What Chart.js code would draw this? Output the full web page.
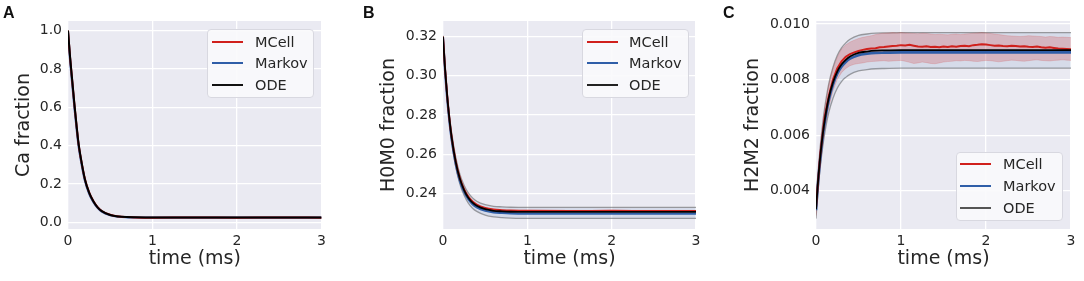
<!DOCTYPE html>
<html>
<head>
<meta charset="utf-8">
<script src="https://cdn.jsdelivr.net/npm/chart.js@4.4.0/dist/chart.umd.min.js"></script>
<style>
  body { margin: 0; width: 1084px; height: 281px; background: #fff; position: relative; overflow: hidden; font-family: "DejaVu Sans", sans-serif; }
  canvas { position: absolute; top: 0; }
  .tag { position: absolute; top: 5px; font: bold 16px "Liberation Sans", Arial, sans-serif; line-height: 1; color: #111; }
  .legend { position: absolute; width: 107px; height: 69px; background: rgba(250,250,252,0.9); border: 1px solid #d8d8e0; border-radius: 4px; box-sizing: border-box; color: #262626; font-size: 14.5px; }
  .row { position: absolute; left: 0; height: 20px; line-height: 20px; white-space: nowrap; }
  .sw { position: absolute; top: 9px; width: 31px; height: 2px; }
  .lbl { position: absolute; }
</style>
</head>
<body>
<canvas id="chartA" width="330" height="281" style="left:0px"></canvas>
<canvas id="chartB" width="345" height="281" style="left:360px"></canvas>
<canvas id="chartC" width="360" height="281" style="left:720px"></canvas>
<div class="tag" style="left:3px">A</div>
<div class="tag" style="left:363px">B</div>
<div class="tag" style="left:723px">C</div>
<div id="legA" class="legend" style="left:207px;top:29px"></div>
<div id="legB" class="legend" style="left:582px;top:29px"></div>
<div id="legC" class="legend" style="left:956px;top:152px"></div>
<script>
// time axis (ms)
const timeA = [0, 0.025, 0.05, 0.075, 0.1, 0.125, 0.15, 0.2, 0.25, 0.3, 0.35, 0.4, 0.5, 0.6, 0.7, 0.8, 1.0, 1.5, 2.0, 2.5, 3.0];
const timeBC = [0, 0.025, 0.05, 0.075, 0.1, 0.15, 0.2, 0.25, 0.3, 0.35, 0.4, 0.5, 0.6, 0.7, 0.8, 1.0, 1.5, 2.0, 2.5, 3.0];
const timeFine = [0, 0.05, 0.1, 0.15, 0.2, 0.25, 0.3, 0.35, 0.4, 0.45, 0.5, 0.55, 0.6, 0.65, 0.7, 0.75, 0.8, 0.85, 0.9, 0.95,
  1.0, 1.05, 1.1, 1.15, 1.2, 1.25, 1.3, 1.35, 1.4, 1.45, 1.5, 1.55, 1.6, 1.65, 1.7, 1.75, 1.8, 1.85, 1.9, 1.95,
  2.0, 2.05, 2.1, 2.15, 2.2, 2.25, 2.3, 2.35, 2.4, 2.45, 2.5, 2.55, 2.6, 2.65, 2.7, 2.75, 2.8, 2.85, 2.9, 2.95, 3.0];

// panel A: Ca fraction
const caODE    = [1.0, 0.86, 0.74, 0.62, 0.51, 0.41, 0.34, 0.225, 0.155, 0.11, 0.078, 0.058, 0.038, 0.030, 0.027, 0.026, 0.025, 0.025, 0.025, 0.025, 0.025];
const caMarkov = [0.99, 0.845, 0.725, 0.605, 0.497, 0.40, 0.33, 0.218, 0.15, 0.106, 0.076, 0.056, 0.037, 0.029, 0.026, 0.025, 0.024, 0.024, 0.024, 0.024, 0.024];
const caMCell  = [1.0, 0.858, 0.738, 0.618, 0.509, 0.409, 0.339, 0.226, 0.156, 0.111, 0.079, 0.059, 0.039, 0.030, 0.027, 0.025, 0.024, 0.025, 0.024, 0.025, 0.024];

// panel B: H0M0 fraction
const h0m0ODE    = [0.3200, 0.3032, 0.2895, 0.2784, 0.2694, 0.2562, 0.2474, 0.2417, 0.2378, 0.2353, 0.2337, 0.2319, 0.2311, 0.2308, 0.2306, 0.2305, 0.2305, 0.2305, 0.2305, 0.2305];
const h0m0Markov = [0.3195, 0.3020, 0.2882, 0.2771, 0.2681, 0.2551, 0.2464, 0.2408, 0.2370, 0.2345, 0.2329, 0.2311, 0.2303, 0.2300, 0.2298, 0.2297, 0.2297, 0.2297, 0.2297, 0.2297];
const h0m0MCell  = [0.3200, 0.3033, 0.2897, 0.2786, 0.2696, 0.2565, 0.2478, 0.2421, 0.2383, 0.2358, 0.2342, 0.2325, 0.2317, 0.2314, 0.2312, 0.2311, 0.2310, 0.2311, 0.2310, 0.2310];
const h0m0Hi     = [0.3205, 0.3045, 0.2912, 0.2803, 0.2716, 0.2586, 0.2498, 0.2441, 0.2402, 0.2377, 0.2360, 0.2342, 0.2334, 0.2331, 0.2329, 0.2328, 0.2328, 0.2328, 0.2328, 0.2328];
const h0m0Lo     = [0.3190, 0.3018, 0.2878, 0.2765, 0.2673, 0.2538, 0.2448, 0.2390, 0.2350, 0.2324, 0.2308, 0.2289, 0.2280, 0.2276, 0.2274, 0.2272, 0.2272, 0.2272, 0.2272, 0.2272];

// panel C: H2M2 fraction
const h2m2ODE    = [0.00334, 0.00438, 0.00523, 0.00592, 0.00649, 0.00734, 0.00790, 0.00829, 0.00854, 0.00871, 0.00883, 0.00896, 0.00901, 0.00904, 0.00905, 0.00906, 0.00906, 0.00906, 0.00906, 0.00906];
const h2m2Markov = [0.00330, 0.00432, 0.00516, 0.00585, 0.00641, 0.00726, 0.00782, 0.00821, 0.00846, 0.00863, 0.00875, 0.00888, 0.00893, 0.00896, 0.00897, 0.00898, 0.00898, 0.00898, 0.00898, 0.00898];
const h2m2Hi     = [0.00370, 0.00469, 0.00560, 0.00633, 0.00694, 0.00785, 0.00845, 0.00887, 0.00914, 0.00932, 0.00945, 0.00959, 0.00964, 0.00967, 0.00968, 0.00969, 0.00969, 0.00969, 0.00969, 0.00969];
const h2m2Lo     = [0.00300, 0.00406, 0.00485, 0.00549, 0.00602, 0.00681, 0.00733, 0.00769, 0.00793, 0.00808, 0.00819, 0.00831, 0.00836, 0.00839, 0.00840, 0.00841, 0.00841, 0.00841, 0.00841, 0.00841];
const h2m2MCell  = [0.0034, 0.0053, 0.0066, 0.0074, 0.0080, 0.0084, 0.00866, 0.00882, 0.00892, 0.00898, 0.00903, 0.00907, 0.0091, 0.00912, 0.00913, 0.00916, 0.00917, 0.00919, 0.00921, 0.00922,
  0.00924, 0.00923, 0.00925, 0.00922, 0.00919, 0.00918, 0.0092, 0.00917, 0.00918, 0.00916, 0.00919, 0.00917, 0.0092, 0.00918, 0.00921, 0.00922, 0.0092, 0.00924, 0.00925, 0.00927,
  0.00926, 0.00924, 0.00922, 0.00923, 0.00921, 0.0092, 0.00922, 0.00921, 0.00919, 0.0092, 0.00918, 0.00917, 0.00919, 0.00916, 0.00915, 0.00916, 0.00914, 0.00912, 0.00911, 0.0091, 0.00909];
const h2m2MCellHi = [0.0036, 0.0056, 0.0069, 0.0078, 0.0084, 0.0088, 0.0091, 0.00925, 0.00935, 0.00942, 0.00948, 0.00952, 0.00955, 0.00958, 0.00962, 0.00965, 0.00967, 0.00968, 0.00969, 0.00968,
  0.00969, 0.00968, 0.00967, 0.00966, 0.00965, 0.00967, 0.00966, 0.00964, 0.00962, 0.00963, 0.00962, 0.00961, 0.00963, 0.00964, 0.00962, 0.00964, 0.00965, 0.00967, 0.00968, 0.00969,
  0.00968, 0.00966, 0.00964, 0.00962, 0.0096, 0.00958, 0.00957, 0.00956, 0.00955, 0.00956, 0.00958, 0.00957, 0.00956, 0.00955, 0.00953, 0.00955, 0.00954, 0.00952, 0.00953, 0.00952, 0.00951];
const h2m2MCellLo = [0.0031, 0.0049, 0.0062, 0.0070, 0.0076, 0.0080, 0.00825, 0.0084, 0.0085, 0.00855, 0.00858, 0.0086, 0.00863, 0.00865, 0.00866, 0.00867, 0.00868, 0.00866, 0.00867, 0.00868,
  0.00869, 0.00866, 0.00862, 0.00858, 0.0086, 0.00863, 0.00861, 0.00858, 0.00857, 0.0086, 0.00863, 0.00865, 0.00866, 0.00868, 0.00867, 0.00869, 0.00868, 0.00866, 0.00865, 0.00867,
  0.00869, 0.00868, 0.00866, 0.00864, 0.00866, 0.00868, 0.0087, 0.00869, 0.00867, 0.00866, 0.00868, 0.0087, 0.00871, 0.00869, 0.00868, 0.00867, 0.00869, 0.0087, 0.00871, 0.0087, 0.00869];

// tick labels
const xTicks = [0, 1, 2, 3];
const yTicksA = [0.0, 0.2, 0.4, 0.6, 0.8, 1.0];
const yTicksB = [0.24, 0.26, 0.28, 0.30, 0.32];
const yTicksC = [0.004, 0.006, 0.008, 0.010];

const RED = "#d0201c";
const BLUE = "#2f5ea8";
const INK = "#262626";
const BANDLINE = "rgba(90,90,90,0.55)";

function pts(xs, ys) {
  return ys.map((y, i) => ({ x: xs[i], y: y }));
}

function line(data, color, width, order, extra) {
  return Object.assign({
    data: data, borderColor: color, borderWidth: width, pointRadius: 0,
    cubicInterpolationMode: "monotone", fill: false, order: order
  }, extra || {});
}

// fills the plot area with the seaborn grey
const plotBg = {
  id: "plotBg",
  beforeDraw(chart) {
    const a = chart.chartArea;
    const ctx = chart.ctx;
    ctx.save();
    ctx.fillStyle = "#eaeaf2";
    ctx.fillRect(a.left, a.top, a.right - a.left, a.bottom - a.top);
    ctx.restore();
  }
};

function makeChart(id, o) {
  return new Chart(document.getElementById(id), {
    type: "line",
    data: { datasets: o.datasets },
    plugins: [plotBg],
    options: {
      responsive: false,
      animation: false,
      layout: { padding: { top: 21, right: o.pr, left: 0, bottom: 0 } },
      plugins: { legend: { display: false }, tooltip: { enabled: false } },
      scales: {
        x: {
          type: "linear", min: 0, max: 3,
          afterBuildTicks: (ax) => { ax.ticks = xTicks.map((v) => ({ value: v })); },
          afterFit: (ax) => { ax.height = 52; },
          grid: { color: "#ffffff", lineWidth: 1.3, drawTicks: false },
          border: { display: false },
          ticks: { padding: 4, color: INK, font: { family: "DejaVu Sans", size: 14 }, callback: (v) => String(v) },
          title: { display: true, text: "time (ms)", color: INK, font: { family: "DejaVu Sans", size: 19 }, padding: { top: 0, bottom: 11 } }
        },
        y: {
          type: "linear", min: o.ymin, max: o.ymax,
          afterBuildTicks: (ax) => { ax.ticks = o.yTicks.map((v) => ({ value: v })); },
          afterFit: (ax) => { ax.width = o.yw; },
          grid: { color: "#ffffff", lineWidth: 1.3, drawTicks: false },
          border: { display: false },
          ticks: { padding: 6, color: INK, font: { family: "DejaVu Sans", size: 14 }, callback: (v) => Number(v).toFixed(o.dec) },
          title: { display: true, text: o.ytitle, color: INK, font: { family: "DejaVu Sans", size: 19 }, padding: { top: o.tpad, bottom: 0 } }
        }
      }
    }
  });
}

makeChart("chartA", {
  yw: 68, pr: 8, ymin: -0.035, ymax: 1.05, yTicks: yTicksA, dec: 1, ytitle: "Ca fraction", tpad: 13,
  datasets: [
    line(pts(timeA, caODE), "#000000", 2, 1),
    line(pts(timeA, caMCell), RED, 2, 2),
    line(pts(timeA, caMarkov), BLUE, 2.2, 3)
  ]
});

makeChart("chartB", {
  yw: 83, pr: 9, ymin: 0.2218, ymax: 0.328, yTicks: yTicksB, dec: 2, ytitle: "H0M0 fraction", tpad: 18,
  datasets: [
    line(pts(timeBC, h0m0Hi), BANDLINE, 1.3, 5, { fill: "+1", backgroundColor: "rgba(76,114,176,0.13)" }),
    line(pts(timeBC, h0m0Lo), BANDLINE, 1.3, 6),
    line(pts(timeBC, h0m0ODE), "#000000", 1.8, 1),
    line(pts(timeBC, h0m0MCell), RED, 2, 2),
    line(pts(timeBC, h0m0Markov), BLUE, 2.2, 3)
  ]
});

makeChart("chartC", {
  yw: 96, pr: 9, ymin: 0.002626, ymax: 0.010108, yTicks: yTicksC, dec: 3, ytitle: "H2M2 fraction", tpad: 22,
  datasets: [
    line(pts(timeBC, h2m2Hi), BANDLINE, 1.3, 7, { fill: "+1", backgroundColor: "rgba(76,114,176,0.12)" }),
    line(pts(timeBC, h2m2Lo), BANDLINE, 1.3, 8),
    line(pts(timeFine, h2m2MCellHi), "rgba(208,32,28,0.15)", 1, 5, { fill: "+1", backgroundColor: "rgba(208,32,28,0.2)", cubicInterpolationMode: "default", tension: 0 }),
    line(pts(timeFine, h2m2MCellLo), "rgba(208,32,28,0.15)", 1, 6, { cubicInterpolationMode: "default", tension: 0 }),
    line(pts(timeBC, h2m2ODE), "#000000", 1.8, 1),
    line(pts(timeFine, h2m2MCell), RED, 2, 2, { cubicInterpolationMode: "default", tension: 0 }),
    line(pts(timeBC, h2m2Markov), BLUE, 2.6, 3)
  ]
});

// legends
const legendItems = [
  { name: "MCell", color: RED },
  { name: "Markov", color: BLUE },
  { name: "ODE", color: "#1a1a1a" }
];
function buildLegend(id, rows, swLeft, txtLeft, odeColor) {
  const box = document.getElementById(id);
  legendItems.forEach((it, i) => {
    const r = document.createElement("div");
    r.className = "row";
    r.style.top = (rows[i] - 10) + "px";
    const sw = document.createElement("span");
    sw.className = "sw";
    sw.style.left = swLeft + "px";
    sw.style.background = it.name === "ODE" ? odeColor : it.color;
    const t = document.createElement("span");
    t.className = "lbl";
    t.style.left = txtLeft + "px";
    t.textContent = it.name;
    r.appendChild(sw);
    r.appendChild(t);
    box.appendChild(r);
  });
}
buildLegend("legA", [12, 33, 55], 4, 47, "#111");
buildLegend("legB", [12, 33, 55], 4, 46, "#222");
buildLegend("legC", [11, 33, 55], 3, 46, "#555");
</script>
</body>
</html>
